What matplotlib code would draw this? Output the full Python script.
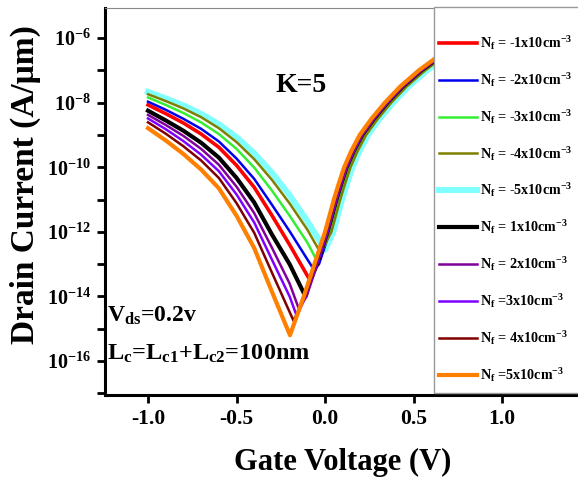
import numpy as np
import matplotlib.pyplot as plt
from matplotlib.ticker import FixedLocator, FuncFormatter, NullLocator
from matplotlib.patches import Rectangle
from matplotlib.lines import Line2D

plt.rcParams['font.family'] = ['Liberation Serif', 'DejaVu Serif']
plt.rcParams['font.weight'] = 'bold'
plt.rcParams['mathtext.fontset'] = 'custom'
plt.rcParams['mathtext.rm'] = 'Liberation Serif:bold'
plt.rcParams['mathtext.it'] = 'Liberation Serif:bold'
plt.rcParams['mathtext.bf'] = 'Liberation Serif:bold'
plt.rcParams['axes.unicode_minus'] = False

# legend order
labels = ['N$_f$ = -1x10cm$^{-3}$', 'N$_f$ = -2x10cm$^{-3}$', 'N$_f$ = -3x10cm$^{-3}$',
          'N$_f$ = -4x10cm$^{-3}$', 'N$_f$ = -5x10cm$^{-3}$', 'N$_f$ = 1x10cm$^{-3}$',
          'N$_f$ = 2x10cm$^{-3}$', 'N$_f$ =3x10cm$^{-3}$', 'N$_f$ = 4x10cm$^{-3}$',
          'N$_f$ =5x10cm$^{-3}$']
colors = ['#ff0000', '#0000ee', '#33ee33', '#808000', '#80ffff',
          '#000000', '#80009a', '#8000ff', '#800000', '#ff8000']
widths = [2.6, 1.8, 1.8, 1.8, 4.4, 3.0, 1.8, 1.8, 1.8, 3.0]

nan = np.nan
# left branch: log10(Id) at these gate voltages
vg_left = [-1.0, -0.9, -0.8, -0.7, -0.6, -0.5, -0.4, -0.3, -0.2, -0.1]
log_left = [
    [-8.07, -8.34, -8.63, -8.97, -9.38, -9.94, -10.62, -11.49, -12.40, nan],
    [-7.97, -8.22, -8.50, -8.81, -9.20, -9.73, -10.36, -11.16, -11.98, -12.85],
    [-7.84, -8.07, -8.32, -8.61, -8.97, -9.43, -10.01, -10.72, -11.50, -12.33],
    [-7.74, -7.95, -8.18, -8.45, -8.79, -9.22, -9.75, -10.39, -11.12, -11.93],
    [-7.67, -7.87, -8.09, -8.35, -8.67, -9.07, -9.57, -10.17, -10.87, -11.67],
    [-8.25, -8.55, -8.87, -9.24, -9.70, -10.33, -11.09, -12.08, -13.00, nan],
    [-8.38, -8.69, -9.03, -9.43, -9.92, -10.60, -11.42, -12.49, -13.60, nan],
    [-8.49, -8.82, -9.19, -9.61, -10.12, -10.84, -11.71, -12.86, -14.00, nan],
    [-8.61, -8.96, -9.35, -9.79, -10.33, -11.11, -12.03, -13.26, nan, nan],
    [-8.79, -9.17, -9.59, -10.07, -10.65, -11.50, -12.50, -13.85, nan, nan],
]
# minimum of each curve (gate voltage, log10 Id)
vg_min = [-0.09, -0.065, -0.045, -0.025, 0.0, -0.115, -0.15, -0.16, -0.178, -0.198]
log_min = [-13.45, -13.15, -12.9, -12.65, -12.55, -13.95, -14.35, -14.6, -14.75, -15.2]
# right branch: gate voltage at these log10 Id levels
log_right = [-14, -13, -12, -11, -10.5, -10, -9.5, -9, -8.5, -8, -7.5, -7, -6.5, -6]
vg_right = [
    [nan, -0.040, 0.020, 0.070, 0.098, 0.128, 0.168, 0.216, 0.282, 0.358, 0.445, 0.550, 0.675, 0.820],
    [nan, -0.034, 0.026, 0.076, 0.104, 0.134, 0.174, 0.222, 0.288, 0.364, 0.451, 0.556, 0.681, 0.826],
    [nan, nan, 0.032, 0.082, 0.110, 0.140, 0.180, 0.228, 0.294, 0.370, 0.457, 0.562, 0.687, 0.832],
    [nan, nan, 0.036, 0.086, 0.114, 0.144, 0.184, 0.232, 0.298, 0.374, 0.461, 0.566, 0.691, 0.836],
    [nan, nan, 0.046, 0.096, 0.124, 0.154, 0.194, 0.242, 0.308, 0.384, 0.471, 0.576, 0.701, 0.846],
    [nan, -0.046, 0.014, 0.064, 0.092, 0.122, 0.162, 0.210, 0.276, 0.352, 0.439, 0.544, 0.669, 0.814],
    [-0.104, -0.044, 0.016, 0.066, 0.094, 0.124, 0.164, 0.212, 0.278, 0.354, 0.441, 0.546, 0.671, 0.816],
    [-0.108, -0.048, 0.012, 0.062, 0.090, 0.120, 0.160, 0.208, 0.274, 0.350, 0.437, 0.542, 0.667, 0.812],
    [-0.112, -0.052, 0.008, 0.058, 0.086, 0.116, 0.156, 0.204, 0.270, 0.346, 0.433, 0.538, 0.663, 0.808],
    [-0.120, -0.060, 0.000, 0.050, 0.078, 0.108, 0.148, 0.196, 0.262, 0.338, 0.425, 0.530, 0.655, 0.800],
]

W, H = 578, 480
fig = plt.figure(figsize=(W / 100, H / 100), dpi=100)
ax = fig.add_axes([105 / W, 1 - 395 / H, (590 - 105) / W, (395 - 8) / H])

for i in range(len(labels)):
    xl = [v for v, l in zip(vg_left, log_left[i]) if not np.isnan(l)]
    yl = [l for l in log_left[i] if not np.isnan(l)]
    xr = [v for v in vg_right[i] if not np.isnan(v)]
    yr = [l for v, l in zip(vg_right[i], log_right) if not np.isnan(v)]
    x = xl + [vg_min[i]] + xr
    y = yl + [log_min[i]] + yr
    z = 1 if i == 4 else 2 + i
    ax.plot(x, 10.0 ** np.array(y), color=colors[i], lw=widths[i], zorder=z)

ax.set_yscale('log')
ax.set_xlim(-1.243, 1.497)
ax.set_ylim(10 ** -17.05, 10 ** -5.07)
ax.yaxis.set_major_locator(FixedLocator([10.0 ** e for e in range(-17, -5)]))
ax.yaxis.set_minor_locator(NullLocator())


def ylab(v, pos):
    e = int(round(np.log10(v)))
    return r'$10^{%d}$' % e if e % 2 == 0 else ''


ax.yaxis.set_major_formatter(FuncFormatter(ylab))
ax.set_xticks([-1.0, -0.5, 0.0, 0.5, 1.0])
ax.set_xticklabels(['-1.0', '-0.5', '0.0', '0.5', '1.0'])
ax.tick_params(direction='out', length=6, width=2, pad=4)
ax.tick_params(axis='x', labelsize=15.5)
ax.tick_params(axis='y', labelsize=14.5)

for s in ['left', 'bottom']:
    ax.spines[s].set_linewidth(2.2)
ax.spines['top'].set_linewidth(0.8)
ax.spines['top'].set_color('#888888')
ax.spines['right'].set_visible(False)

fig.text(343 / W, 1 - 462 / H, 'Gate Voltage (V)', fontsize=22, fontweight='bold',
         ha='center', va='center')
fig.text(25 / W, 1 - 185 / H, 'Drain Current (A/\u03bcm)', fontsize=24, fontweight='bold',
         ha='center', va='center', rotation=90)

fig.text(275 / W, 1 - 92 / H, 'K=5', fontsize=20, fontweight='bold', va='baseline')
fig.text(107 / W, 1 - 322 / H, 'V$_{ds}$=0.2v', fontsize=17, va='baseline')
fig.text(107 / W, 1 - 360 / H, 'L$_c$=L$_{c1}$+L$_{c2}$=100nm', fontsize=17.5, va='baseline')

frame = Rectangle((434 / W, 1 - 393 / H), (600 - 434) / W, (393 - 7) / H,
                  transform=fig.transFigure, facecolor='white', edgecolor='#999999',
                  lw=1.0, zorder=3)
fig.add_artist(frame)

handles = [Line2D([], [], color=c, lw=w) for c, w in zip(colors, widths)]
fig.legend(handles, labels, loc='upper left', bbox_to_anchor=(439 / W, 1 - 34 / H),
           frameon=False, fontsize=10.2, handlelength=2.7, handletextpad=0.2,
           labelspacing=1.33, borderpad=0, borderaxespad=0)

fig.savefig('out.png', dpi=100)
